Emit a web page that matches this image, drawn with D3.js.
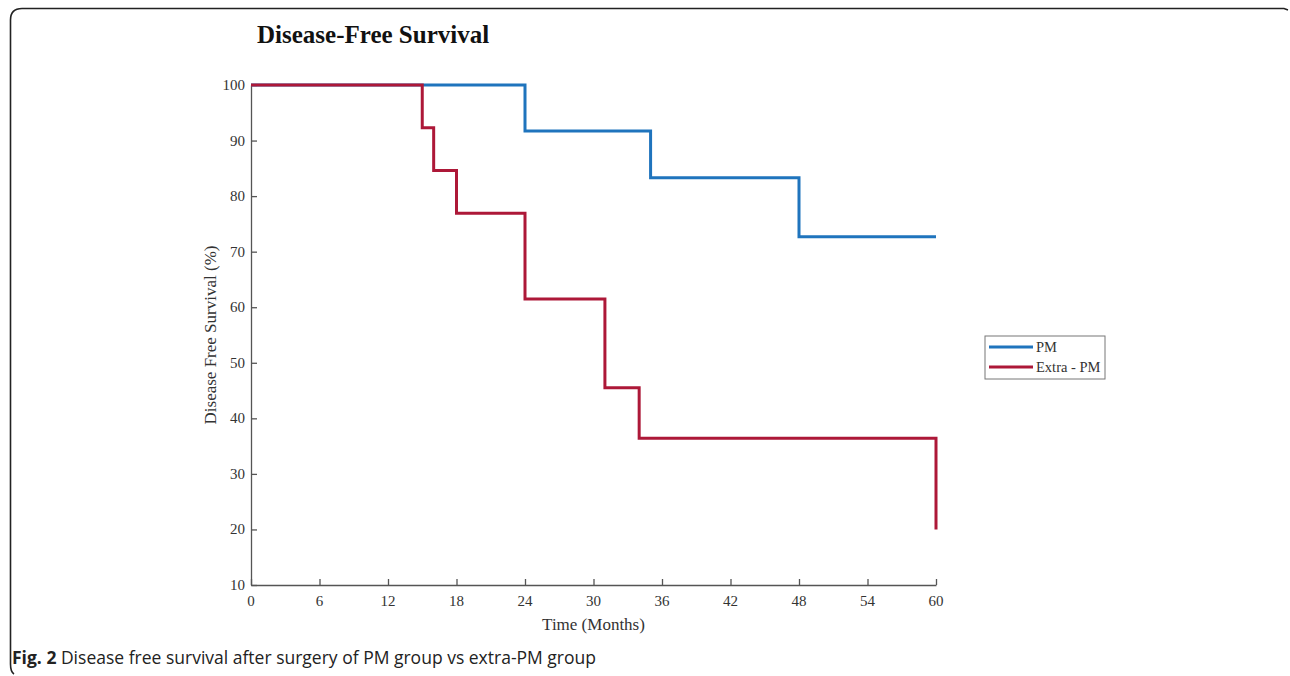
<!DOCTYPE html>
<html>
<head>
<meta charset="utf-8">
<script src="https://cdn.jsdelivr.net/npm/d3@7"></script>
<style>
  body { margin: 0; background: #fff; }
  svg { display: block; }
</style>
</head>
<body>
<div id="chart-area"></div>
<script>
// survival data (time in months, percent surviving)
const pmTimes = [0, 24, 35, 48, 60];
const pmValues = [100, 91.7, 83.3, 72.7, 72.7];
const extraTimes = [0, 15, 16, 18, 24, 31, 34, 60, 60];
const extraValues = [100, 92.3, 84.6, 76.9, 61.5, 45.5, 36.4, 36.4, 20];

const xTicks = [0, 6, 12, 18, 24, 30, 36, 42, 48, 54, 60];
const yTicks = [10, 20, 30, 40, 50, 60, 70, 80, 90, 100];
const seriesNames = ['PM', 'Extra - PM'];
const seriesColors = ['#1f74bd', '#ad1838'];

const W = 1290, H = 676;
const serif = '"Liberation Serif", "Times New Roman", serif';

const svg = d3.select('#chart-area')
  .append('svg')
  .attr('width', W)
  .attr('height', H);

// outer frame: top and left edges only, rounded corners
svg.append('path')
  .attr('d', 'M1288,10 L1284,8.5 L22,8.5 Q10.5,8.5 10.5,20 L10.5,664 Q10.5,672 14,674')
  .attr('fill', 'none')
  .attr('stroke', '#222')
  .attr('stroke-width', 1.6);

const x = d3.scaleLinear().domain([0, 60]).range([251, 936]);
const y = d3.scaleLinear().domain([10, 100]).range([585, 85]);

// title
svg.append('text')
  .attr('x', 257).attr('y', 43)
  .attr('font-family', serif)
  .attr('font-weight', 'bold')
  .attr('font-size', '25px')
  .attr('fill', '#111')
  .text('Disease-Free Survival');

// axes, ticks pointing inward
const xAxis = svg.append('g')
  .attr('transform', 'translate(0,' + y(10) + ')')
  .call(d3.axisTop(x).tickValues(xTicks).tickSize(6).tickSizeOuter(0).tickFormat(''));
const yAxis = svg.append('g')
  .attr('transform', 'translate(' + x(0) + ',0)')
  .call(d3.axisRight(y).tickValues(yTicks).tickSize(6).tickSizeOuter(0).tickFormat(''));
[xAxis, yAxis].forEach(a => {
  a.selectAll('path, line').attr('stroke', '#555').attr('stroke-width', 1.3);
});

// tick labels
svg.append('g').selectAll('text')
  .data(xTicks).enter().append('text')
  .attr('x', d => x(d)).attr('y', y(10) + 21)
  .attr('text-anchor', 'middle')
  .attr('font-family', serif).attr('font-size', '15px').attr('fill', '#333')
  .text(d => d);
svg.append('g').selectAll('text')
  .data(yTicks).enter().append('text')
  .attr('x', x(0) - 6).attr('y', d => y(d) + 5)
  .attr('text-anchor', 'end')
  .attr('font-family', serif).attr('font-size', '15px').attr('fill', '#333')
  .text(d => d);

// axis labels
svg.append('text')
  .attr('x', x(30)).attr('y', 630)
  .attr('text-anchor', 'middle')
  .attr('font-family', serif).attr('font-size', '17px').attr('fill', '#333')
  .text('Time (Months)');
svg.append('text')
  .attr('transform', 'translate(216,' + y(55) + ') rotate(-90)')
  .attr('text-anchor', 'middle')
  .attr('font-family', serif).attr('font-size', '17px').attr('fill', '#333')
  .text('Disease Free Survival (%)');

// step curves
const line = d3.line()
  .x(d => x(d[0]))
  .y(d => y(d[1]))
  .curve(d3.curveStepAfter);

const series = [
  d3.zip(pmTimes, pmValues),
  d3.zip(extraTimes, extraValues)
];
svg.append('g').selectAll('path')
  .data(series).enter().append('path')
  .attr('d', line)
  .attr('fill', 'none')
  .attr('stroke', (d, i) => seriesColors[i])
  .attr('stroke-width', 3);

// legend
const lg = svg.append('g').attr('transform', 'translate(985,336)');
lg.append('rect')
  .attr('width', 120).attr('height', 43)
  .attr('fill', '#fff').attr('stroke', '#777').attr('stroke-width', 1);
seriesNames.forEach((name, i) => {
  lg.append('line')
    .attr('x1', 4).attr('x2', 48)
    .attr('y1', 11 + i * 20).attr('y2', 11 + i * 20)
    .attr('stroke', seriesColors[i]).attr('stroke-width', 3);
  lg.append('text')
    .attr('x', 51).attr('y', 16 + i * 20)
    .attr('font-family', serif).attr('font-size', '14.5px').attr('fill', '#333')
    .text(name);
});

// caption
const cap = svg.append('text')
  .attr('x', 12).attr('y', 664)
  .attr('font-family', '"Open Sans", sans-serif')
  .attr('font-size', '17.5px').attr('fill', '#222')
  .attr('textLength', 584).attr('lengthAdjust', 'spacingAndGlyphs');
cap.append('tspan').attr('font-weight', 'bold').text('Fig. 2');
cap.append('tspan').text(' Disease free survival after surgery of PM group vs extra-PM group');
</script>
</body>
</html>
